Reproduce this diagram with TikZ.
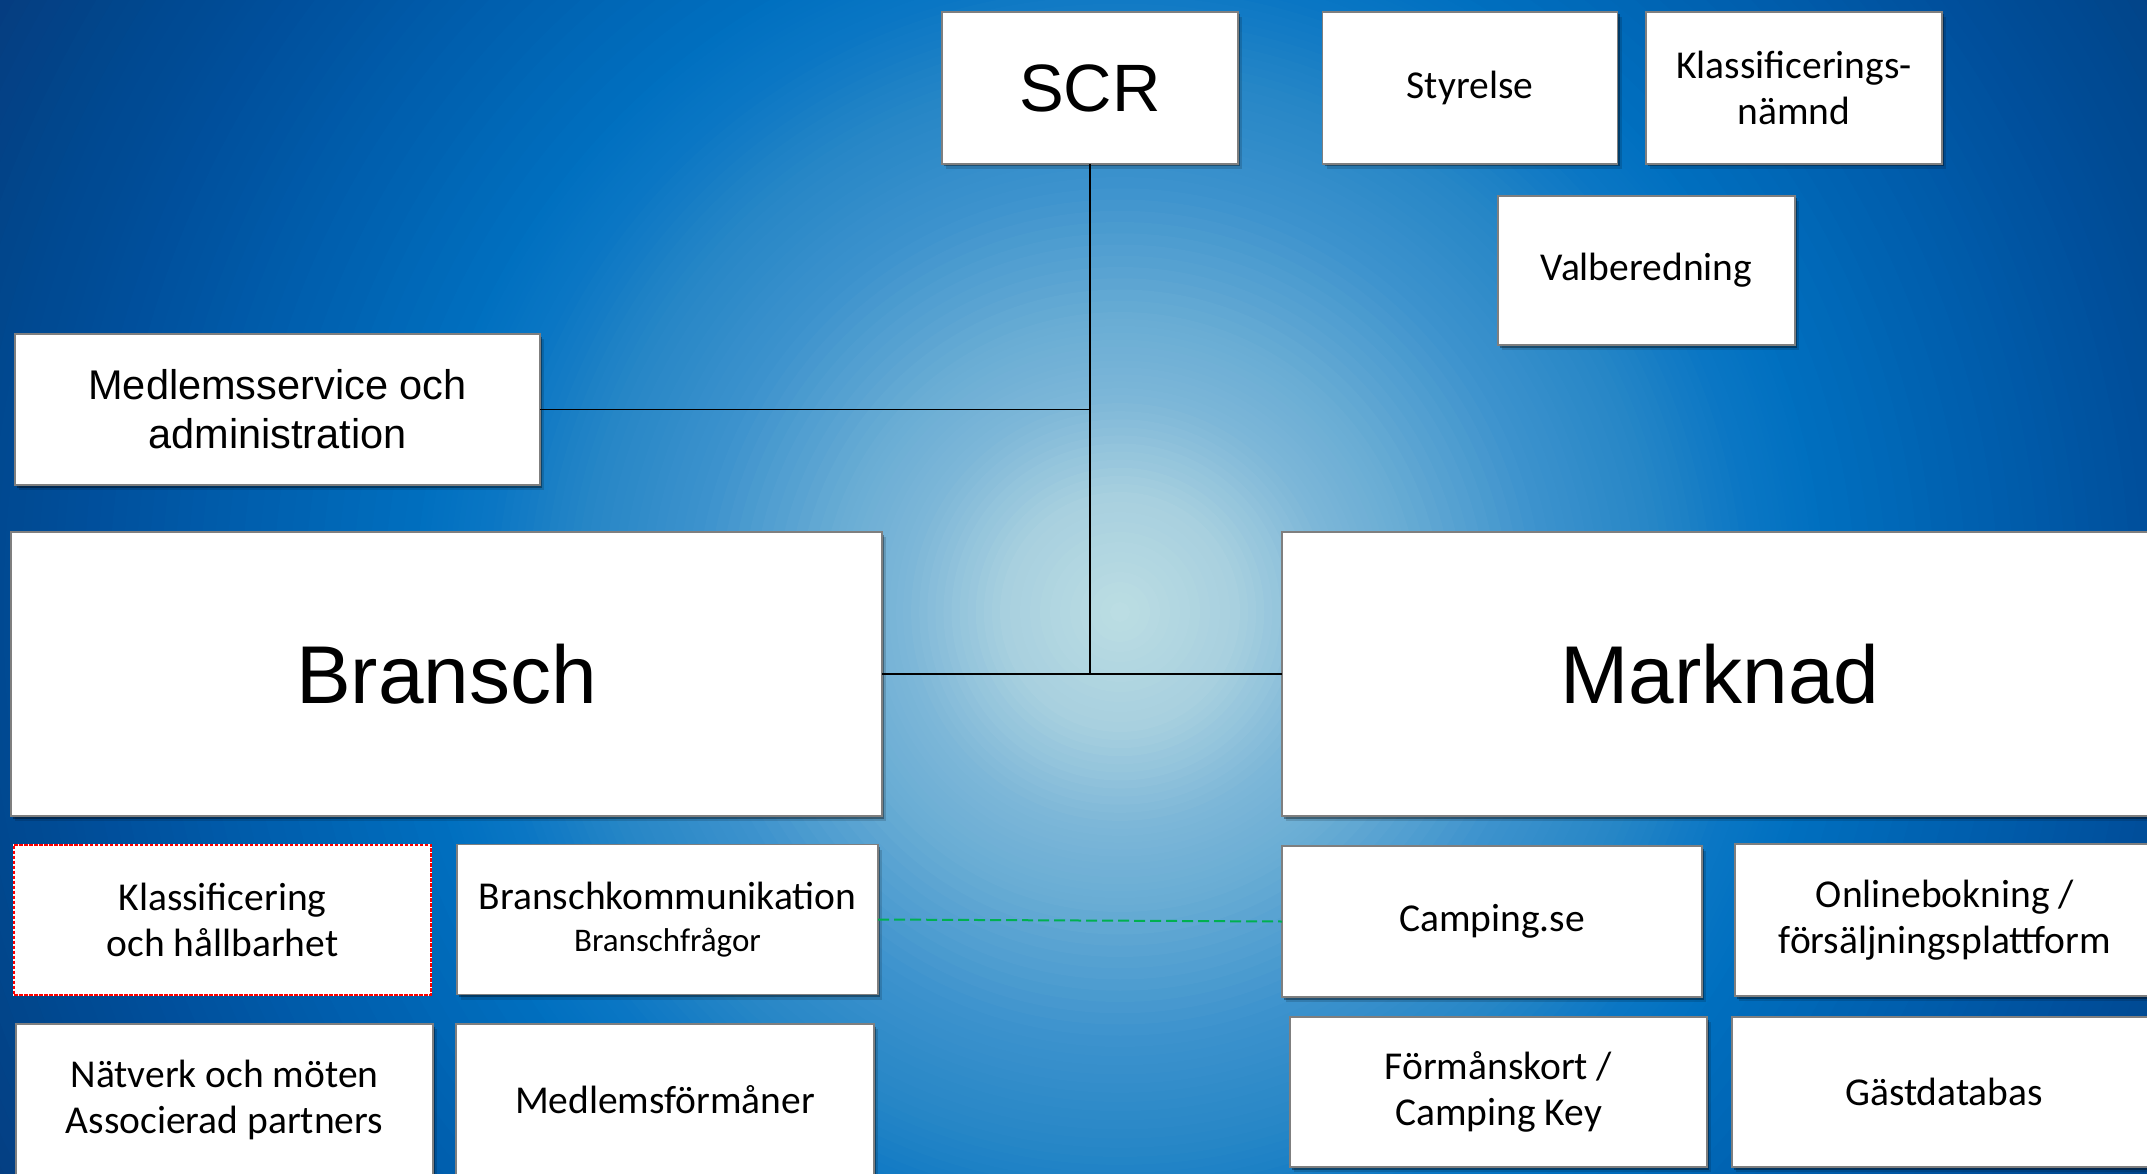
\documentclass[tikz,border=0pt]{standalone}
\usepackage{fontspec}
\setmainfont{Liberation Sans}
\newfontfamily\narrowf{Carlito}
\usetikzlibrary{shadows}
\definecolor{g0}{HTML}{BDDEE3}
\definecolor{g1}{HTML}{A8D0DF}
\definecolor{g2}{HTML}{7DB7D8}
\definecolor{g3}{HTML}{68ACD4}
\definecolor{g4}{HTML}{3C92CD}
\definecolor{g5}{HTML}{2686C6}
\definecolor{g6}{HTML}{0A76C4}
\definecolor{g7}{HTML}{0070C0}
\definecolor{g8}{HTML}{005DAC}
\definecolor{g9}{HTML}{004E9A}
\definecolor{g10}{HTML}{00488F}
\definecolor{g11}{HTML}{073A7C}
\definecolor{boxgray}{HTML}{7F7F7F}
\definecolor{linkgreen}{HTML}{00B050}
\tikzset{
  box/.style={draw=boxgray, line width=1.5pt, fill=white, inner sep=0pt, outer sep=0pt,
    align=center, text=black,
    drop shadow={shadow xshift=2pt, shadow yshift=-2.5pt, opacity=0.35, fill=black},
    drop shadow={shadow xshift=4pt, shadow yshift=-5pt, opacity=0.15, fill=black}},
  redbox/.style={draw=white, line width=2pt, fill=white, inner sep=0pt, outer sep=0pt,
    align=center, text=black,
    postaction={draw=red, line width=2pt, dash pattern=on 3.5pt off 1.5pt}},
  txtnarrow/.style={font=\narrowf\fontsize{39.5}{46}\selectfont},
  txtmid/.style={font=\fontsize{41.5}{49}\selectfont},
  txtbig/.style={font=\fontsize{82}{96}\selectfont},
  txtscr/.style={font=\fontsize{67}{80}\selectfont},
  link/.style={line width=1.8pt, draw=black},
  greenlink/.style={line width=2pt, draw=linkgreen, dash pattern=on 11pt off 5pt}
}
\begin{document}
\begin{tikzpicture}[x=1pt, y=-1pt]
\useasboundingbox (0,0) rectangle (2147,1174);
% background radial gradient
\begin{scope}
  \clip (0,0) rectangle (2147,1174);
  \fill[g11] (0,0) rectangle (2147,1174);
  \foreach \ra/\rb/\ca/\cb in {1320/1150/g11/g10, 1150/1050/g10/g9, 1050/895/g9/g8, 895/705/g8/g7, 705/640/g7/g6, 640/545/g6/g5, 545/435/g5/g4, 435/300/g4/g3, 300/217/g3/g2, 217/120/g2/g1, 120/0/g1/g0}{
    \foreach \k in {0,...,11}{
      \pgfmathsetmacro\rr{\ra-(\ra-\rb)*\k/12}
      \pgfmathtruncatemacro\pp{100*\k/12}
      \fill[\cb!\pp!\ca] (1120,612) circle[radius=\rr];
    }
  }
\end{scope}

% top row
\node[box, txtscr, minimum width=296pt, minimum height=152pt] (scr) at (1090,88) {SCR};
\node[box, txtnarrow, minimum width=295pt, minimum height=152pt] (sty) at (1470,88) {Styrelse};
\node[box, txtnarrow, minimum width=296pt, minimum height=152pt] (kln) at (1794,88) {Klassificerings-\\nämnd};
\node[box, txtnarrow, minimum width=297pt, minimum height=149pt] (val) at (1646.5,270.5) {Valberedning};

% admin
\node[box, txtmid, minimum width=525pt, minimum height=151pt] (med) at (277.5,409.5) {Medlemsservice och\\administration};

% main branches
\node[box, txtbig, minimum width=871pt, minimum height=284pt] (bransch) at (446.5,674) {Bransch};
\node[box, txtbig, minimum width=876pt, minimum height=284pt] (marknad) at (1720,674) {Marknad};

% Bransch sub boxes
\node[redbox, txtnarrow, minimum width=417pt, minimum height=150pt] (kla) at (222.5,919.5) {Klassificering\\och hållbarhet};
\node[box, txtnarrow, minimum width=421pt, minimum height=150pt] (bk) at (667.5,919.5) {Branschkommunikation\\[-4pt]{\fontsize{33}{40}\selectfont Branschfrågor}};
\node[box, txtnarrow, minimum width=417pt, minimum height=152pt] (nat) at (224.5,1100) {Nätverk och möten\\Associerad partners};
\node[box, txtnarrow, minimum width=418pt, minimum height=152pt] (mf) at (665,1100) {Medlemsförmåner};

% Marknad sub boxes
\node[box, txtnarrow, minimum width=420pt, minimum height=151pt] (camp) at (1492,921.5) {Camping.se};
\node[box, txtnarrow, minimum width=420pt, minimum height=152pt] (onl) at (1945,920) {Onlinebokning /\\försäljningsplattform};
\node[box, txtnarrow, minimum width=417pt, minimum height=150pt] (form) at (1498.5,1092) {Förmånskort /\\Camping Key};
\node[box, txtnarrow, minimum width=424pt, minimum height=150pt] (gast) at (1944,1092) {Gästdatabas};

% connectors
\coordinate (hub) at (scr.south |- bransch.east);
\draw[link] (scr.south) -- (hub);
\draw[link] (bransch.east) -- (marknad.west);
\draw[link] (med.east) -- (med.east -| scr.south);
\draw[greenlink] (bk.east) -- (camp.west);
\end{tikzpicture}
\end{document}
